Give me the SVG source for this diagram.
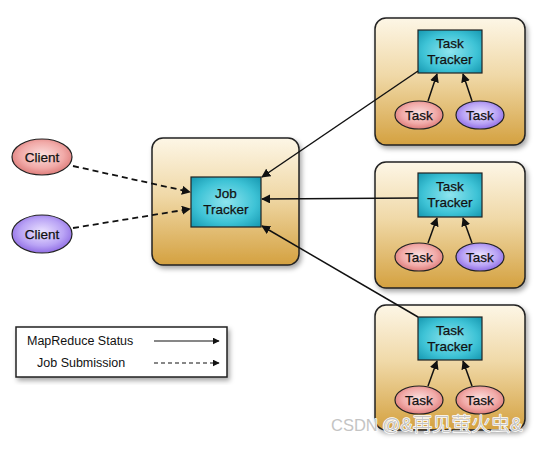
<svg xmlns="http://www.w3.org/2000/svg" width="544" height="449" viewBox="0 0 544 449">
<defs>
<linearGradient id="gold" x1="0" y1="0" x2="0" y2="1">
<stop offset="0" stop-color="#fdf6e6"/>
<stop offset="0.45" stop-color="#f0d9a8"/>
<stop offset="1" stop-color="#d4a140"/>
</linearGradient>
<radialGradient id="teal" cx="0.5" cy="0.5" r="0.7">
<stop offset="0" stop-color="#8ee4ee"/>
<stop offset="0.6" stop-color="#3ec3d6"/>
<stop offset="1" stop-color="#1597b0"/>
</radialGradient>
<radialGradient id="pink" cx="0.5" cy="0.45" r="0.6">
<stop offset="0" stop-color="#fbe0df"/>
<stop offset="0.6" stop-color="#f1aaa8"/>
<stop offset="1" stop-color="#d9716f"/>
</radialGradient>
<radialGradient id="purple" cx="0.5" cy="0.45" r="0.6">
<stop offset="0" stop-color="#ece4ff"/>
<stop offset="0.6" stop-color="#b9a3f5"/>
<stop offset="1" stop-color="#8660e0"/>
</radialGradient>
<filter id="sh" x="-10%" y="-10%" width="125%" height="125%">
<feDropShadow dx="2" dy="3" stdDeviation="2.5" flood-color="#000" flood-opacity="0.35"/>
</filter>
<marker id="ah" viewBox="0 0 10 10" refX="9" refY="5" markerWidth="7" markerHeight="7" orient="auto" markerUnits="userSpaceOnUse">
<path d="M0,0 L10,5 L0,10 z" fill="#111"/>
</marker>
<marker id="ahs" viewBox="0 0 10 10" refX="9" refY="5" markerWidth="9" markerHeight="9" orient="auto" markerUnits="userSpaceOnUse">
<path d="M0,0 L10,5 L0,10 z" fill="#111"/>
</marker>
</defs>
<style>
.outer{fill:url(#gold);stroke:#222;stroke-width:1.5;filter:url(#sh)}
.inner{fill:url(#teal);stroke:#222;stroke-width:1.2}
.pink{fill:url(#pink);stroke:#222;stroke-width:1.2}
.purple{fill:url(#purple);stroke:#222;stroke-width:1.2}
.t{font-family:"Liberation Sans",Arial,sans-serif;font-size:13.5px;fill:#111;stroke:#111;stroke-width:0.25;text-anchor:middle}
.solid{stroke:#111;stroke-width:1.5;fill:none;marker-end:url(#ahs)}
.dash{stroke:#111;stroke-width:1.8;stroke-dasharray:6,4;fill:none;marker-end:url(#ahs)}
.lg{font-family:"Liberation Sans",Arial,sans-serif;font-size:12.5px;fill:#111}
</style>

<g id="jobtracker-host">
<rect class="outer" x="152" y="138" width="147" height="127" rx="11"/>
</g>
<g id="jobtracker">
<rect class="inner" x="191" y="177" width="70" height="50"/>
<text class="t" x="226" y="198">Job</text>
<text class="t" x="226" y="214">Tracker</text>
</g>

<g id="host1">
<rect class="outer" x="375" y="18" width="150" height="127" rx="11"/>
</g>
<g id="tasktracker1">
<rect class="inner" x="418" y="30" width="64" height="43"/>
<text class="t" x="450" y="48">Task</text>
<text class="t" x="450" y="64">Tracker</text>
</g>
<g id="task1a"><ellipse class="pink" cx="419" cy="115" rx="24" ry="14"/><text class="t" x="419" y="120">Task</text></g>
<g id="task1b"><ellipse class="purple" cx="480" cy="115" rx="24" ry="14"/><text class="t" x="480" y="120">Task</text></g>

<g id="host2">
<rect class="outer" x="375" y="162" width="150" height="126" rx="11"/>
</g>
<g id="tasktracker2">
<rect class="inner" x="418" y="173" width="64" height="44"/>
<text class="t" x="450" y="191">Task</text>
<text class="t" x="450" y="207">Tracker</text>
</g>
<g id="task2a"><ellipse class="pink" cx="419" cy="257" rx="24" ry="14"/><text class="t" x="419" y="262">Task</text></g>
<g id="task2b"><ellipse class="purple" cx="480" cy="257" rx="24" ry="14"/><text class="t" x="480" y="262">Task</text></g>

<g id="host3">
<rect class="outer" x="375" y="305" width="150" height="125" rx="11"/>
</g>
<g id="tasktracker3">
<rect class="inner" x="418" y="317" width="64" height="43"/>
<text class="t" x="450" y="335">Task</text>
<text class="t" x="450" y="351">Tracker</text>
</g>
<g id="task3a"><ellipse class="pink" cx="419" cy="400" rx="24" ry="14"/><text class="t" x="419" y="405">Task</text></g>
<g id="task3b"><ellipse class="pink" cx="480" cy="400" rx="24" ry="14"/><text class="t" x="480" y="405">Task</text></g>

<g id="client1"><ellipse class="pink" cx="42" cy="157" rx="30" ry="18"/><text class="t" x="42" y="162">Client</text></g>
<g id="client2"><ellipse class="purple" cx="42" cy="234" rx="30" ry="19"/><text class="t" x="42" y="239">Client</text></g>

<g id="connectors">
<path class="dash" d="M73,166 L190,192"/>
<path class="dash" d="M73,228 L190,209"/>
<path class="solid" d="M418,71 L262,177"/>
<path class="solid" d="M418,198 L262,199"/>
<path class="solid" d="M418,317 L262,226"/>
<path class="solid" d="M428,101 L437,74"/>
<path class="solid" d="M472,101 L463,74"/>
<path class="solid" d="M428,243 L437,218"/>
<path class="solid" d="M472,243 L463,218"/>
<path class="solid" d="M428,386 L437,361"/>
<path class="solid" d="M472,386 L463,361"/>
</g>

<g id="legend">
<rect x="16" y="327" width="211" height="50" fill="#fff" stroke="#222" stroke-width="1.5" filter="url(#sh)"/>
<text class="lg" x="27" y="345">MapReduce Status</text>
<text class="lg" x="37" y="367">Job Submission</text>
<path d="M154,341 L219,341" stroke="#111" stroke-width="1.2" marker-end="url(#ah)"/>
<path d="M154,363 L219,363" stroke="#111" stroke-width="1.2" stroke-dasharray="4,3" marker-end="url(#ah)"/>
</g>

<text x="331" y="431" font-family="'Liberation Sans','Noto Sans CJK SC',sans-serif" font-size="16.5" fill="#c4c4c4" stroke="#ffffff" stroke-width="1.5" paint-order="stroke" stroke-linejoin="round">CSDN <tspan font-size="18">@&amp;</tspan><tspan font-size="19.5" font-weight="300">再见萤火虫</tspan><tspan font-size="18">&amp;</tspan></text>
</svg>
